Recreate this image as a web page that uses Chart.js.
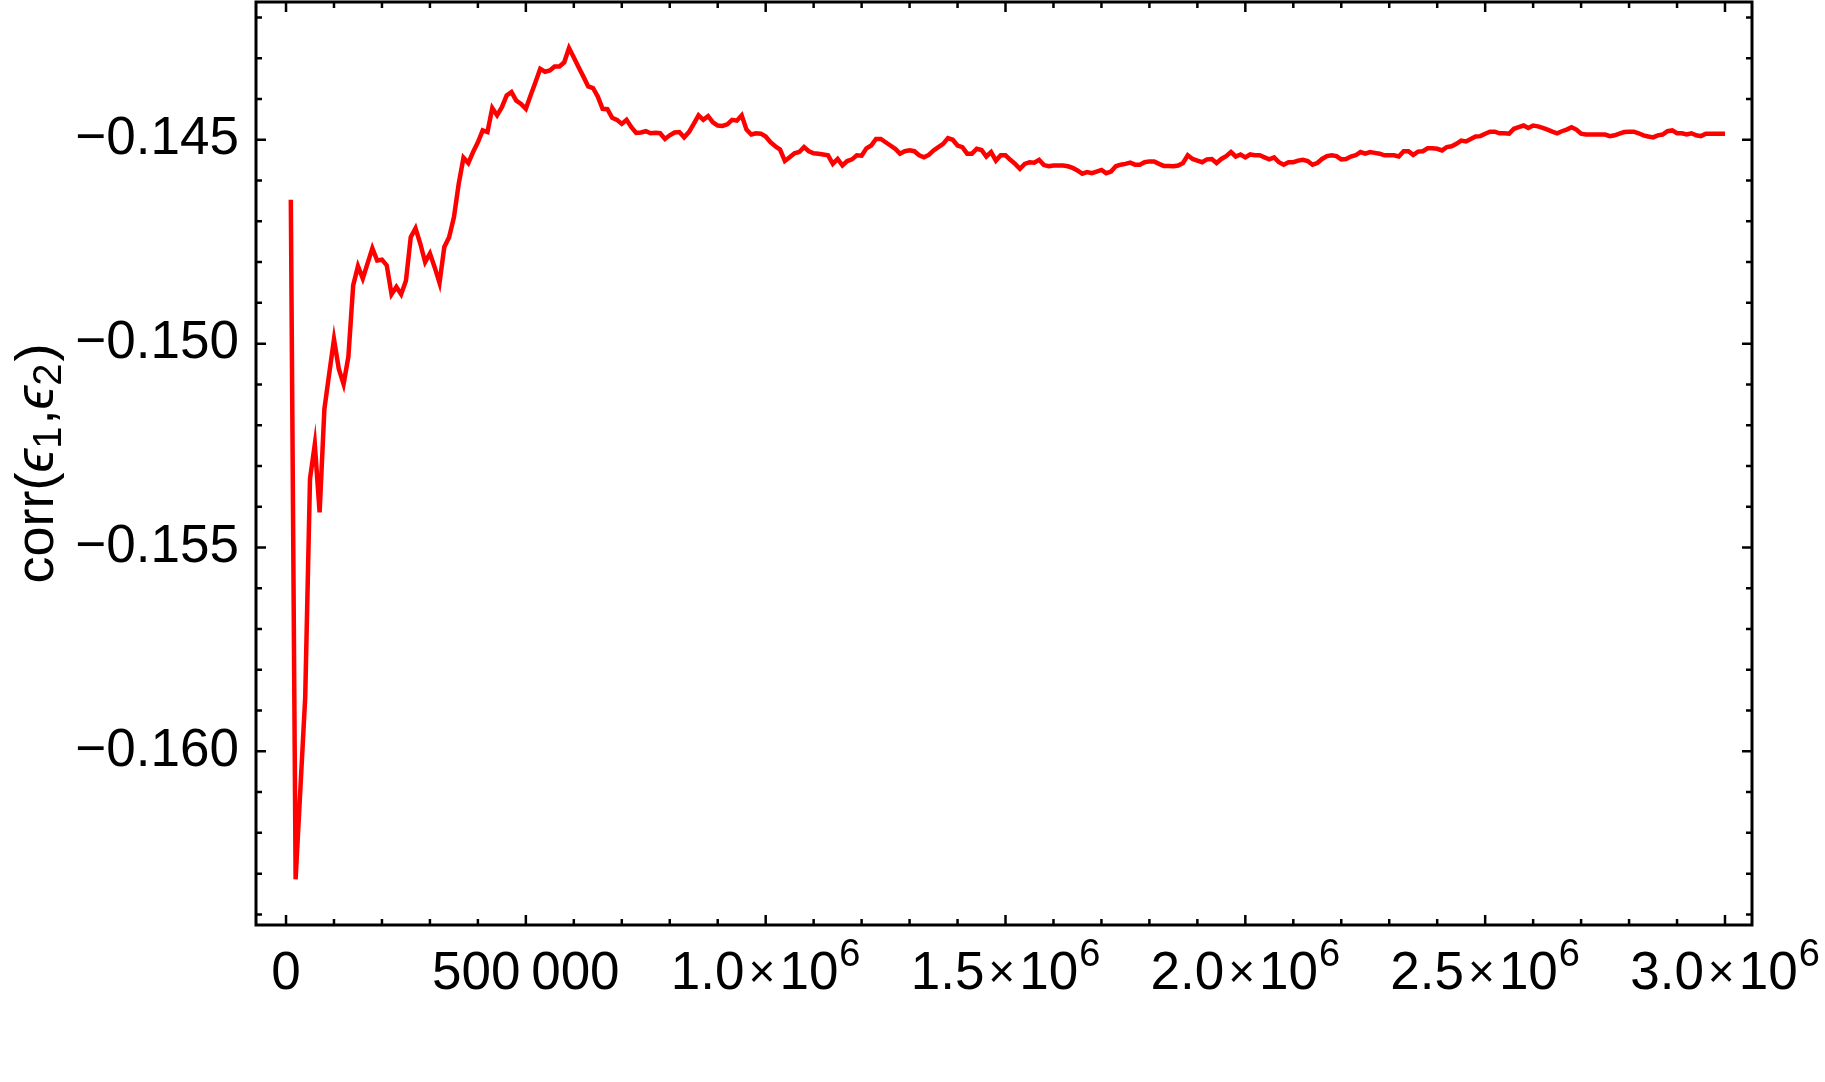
<!DOCTYPE html>
<html>
<head>
<meta charset="utf-8">
<script src="https://cdn.jsdelivr.net/npm/chart.js@4.4.1/dist/chart.umd.min.js"></script>
<style>
  html, body { margin: 0; padding: 0; background: #ffffff; }
  #wrap { width: 1825px; height: 1082px; position: relative; }
</style>
</head>
<body>
<div id="wrap"><canvas id="corrChart"></canvas></div>
<script>
//-----------------------------------------------------------------------------
// data: number of samples (thousands) vs running correlation
//-----------------------------------------------------------------------------
const samplesK = [
    10, 20, 40, 50, 60, 70, 80, 90, 100, 110, 120, 130, 140, 150, 160, 170, 180, 190, 200,
    210, 220, 230, 240, 250, 260, 270, 280, 290, 300, 310, 320, 330, 340, 350, 360, 370, 380,
    390, 400, 410, 420, 430, 440, 450, 460, 470, 480, 490, 500, 510, 520, 530, 540, 550, 560,
    570, 580, 590, 600, 610, 620, 630, 640, 650, 660, 670, 680, 690, 700, 710, 720, 730, 740,
    750, 760, 770, 780, 790, 800, 810, 820, 830, 840, 850, 860, 870, 880, 890, 900, 910, 920,
    930, 940, 950, 960, 970, 980, 990, 1000, 1010, 1020, 1030, 1040, 1050, 1060, 1070, 1080,
    1090, 1100, 1110, 1120, 1130, 1140, 1150, 1160, 1170, 1180, 1190, 1200, 1210, 1220, 1230,
    1240, 1250, 1260, 1270, 1280, 1290, 1300, 1310, 1320, 1330, 1340, 1350, 1360, 1370, 1380,
    1390, 1400, 1410, 1420, 1430, 1440, 1450, 1460, 1470, 1480, 1490, 1500, 1510, 1520, 1530,
    1540, 1550, 1560, 1570, 1580, 1590, 1600, 1610, 1620, 1630, 1640, 1650, 1660, 1670, 1680,
    1690, 1700, 1710, 1720, 1730, 1740, 1750, 1760, 1770, 1780, 1790, 1800, 1810, 1820, 1830,
    1840, 1850, 1860, 1870, 1880, 1890, 1900, 1910, 1920, 1930, 1940, 1950, 1960, 1970, 1980,
    1990, 2000, 2010, 2020, 2030, 2040, 2050, 2060, 2070, 2080, 2090, 2100, 2110, 2120, 2130,
    2140, 2150, 2160, 2170, 2180, 2190, 2200, 2210, 2220, 2230, 2240, 2250, 2260, 2270, 2280,
    2290, 2300, 2310, 2320, 2330, 2340, 2350, 2360, 2370, 2380, 2390, 2400, 2410, 2420, 2430,
    2440, 2450, 2460, 2470, 2480, 2490, 2500, 2510, 2520, 2530, 2540, 2550, 2560, 2570, 2580,
    2590, 2600, 2610, 2620, 2630, 2640, 2650, 2660, 2670, 2680, 2690, 2700, 2710, 2720, 2730,
    2740, 2750, 2760, 2770, 2780, 2790, 2800, 2810, 2820, 2830, 2840, 2850, 2860, 2870, 2880,
    2890, 2900, 2910, 2920, 2930, 2940, 2950, 2960, 2970, 2980, 2990, 3000
];

const corrValues = [
    -0.14647, -0.16314, -0.15867, -0.15331, -0.15247, -0.15414, -0.15160, -0.15074, -0.14989,
    -0.15062, -0.15099, -0.15032, -0.14857, -0.14810, -0.14840, -0.14803, -0.14766, -0.14796,
    -0.14794, -0.14808, -0.14879, -0.14861, -0.14879, -0.14846, -0.14739, -0.14717, -0.14755,
    -0.14800, -0.14779, -0.14813, -0.14851, -0.14763, -0.14739, -0.14690, -0.14608, -0.14544,
    -0.14557, -0.14530, -0.14506, -0.14477, -0.14481, -0.14422, -0.14440, -0.14420, -0.14391,
    -0.14383, -0.14404, -0.14412, -0.14424, -0.14391, -0.14359, -0.14326, -0.14333, -0.14330,
    -0.14320, -0.14320, -0.14310, -0.14275, -0.14298, -0.14322, -0.14345, -0.14369, -0.14373,
    -0.14394, -0.14424, -0.14425, -0.14446, -0.14451, -0.14461, -0.14451, -0.14469, -0.14483,
    -0.14482, -0.14479, -0.14484, -0.14483, -0.14484, -0.14498, -0.14489, -0.14482, -0.14481,
    -0.14494, -0.14481, -0.14461, -0.14440, -0.14451, -0.14442, -0.14457, -0.14465, -0.14466,
    -0.14462, -0.14451, -0.14453, -0.14440, -0.14475, -0.14487, -0.14484, -0.14485, -0.14492,
    -0.14506, -0.14516, -0.14524, -0.14552, -0.14543, -0.14533, -0.14530, -0.14518, -0.14528,
    -0.14533, -0.14534, -0.14536, -0.14538, -0.14559, -0.14547, -0.14563, -0.14552, -0.14548,
    -0.14538, -0.14539, -0.14521, -0.14514, -0.14498, -0.14498, -0.14506, -0.14514, -0.14522,
    -0.14534, -0.14528, -0.14526, -0.14528, -0.14538, -0.14543, -0.14537, -0.14526, -0.14518,
    -0.14510, -0.14496, -0.14500, -0.14514, -0.14518, -0.14534, -0.14534, -0.14522, -0.14525,
    -0.14541, -0.14530, -0.14551, -0.14538, -0.14538, -0.14549, -0.14559, -0.14571, -0.14559,
    -0.14555, -0.14556, -0.14549, -0.14562, -0.14565, -0.14563, -0.14563, -0.14563, -0.14565,
    -0.14569, -0.14575, -0.14583, -0.14579, -0.14582, -0.14578, -0.14574, -0.14582, -0.14578,
    -0.14565, -0.14561, -0.14559, -0.14556, -0.14561, -0.14561, -0.14555, -0.14553, -0.14553,
    -0.14559, -0.14564, -0.14564, -0.14565, -0.14563, -0.14557, -0.14538, -0.14547, -0.14551,
    -0.14555, -0.14548, -0.14547, -0.14557, -0.14547, -0.14540, -0.14530, -0.14541, -0.14536,
    -0.14543, -0.14536, -0.14538, -0.14538, -0.14543, -0.14548, -0.14543, -0.14555, -0.14561,
    -0.14555, -0.14555, -0.14551, -0.14549, -0.14552, -0.14561, -0.14557, -0.14547, -0.14540,
    -0.14538, -0.14540, -0.14548, -0.14547, -0.14541, -0.14538, -0.14530, -0.14534, -0.14530,
    -0.14532, -0.14534, -0.14538, -0.14538, -0.14538, -0.14541, -0.14528, -0.14528, -0.14537,
    -0.14529, -0.14528, -0.14521, -0.14521, -0.14522, -0.14526, -0.14518, -0.14516, -0.14510,
    -0.14502, -0.14504, -0.14498, -0.14492, -0.14491, -0.14485, -0.14480, -0.14480, -0.14484,
    -0.14484, -0.14485, -0.14473, -0.14469, -0.14465, -0.14471, -0.14465, -0.14467, -0.14471,
    -0.14475, -0.14480, -0.14484, -0.14479, -0.14475, -0.14469, -0.14475, -0.14485, -0.14487,
    -0.14487, -0.14487, -0.14487, -0.14487, -0.14491, -0.14489, -0.14485, -0.14481, -0.14480,
    -0.14480, -0.14484, -0.14489, -0.14492, -0.14494, -0.14489, -0.14487, -0.14479, -0.14477,
    -0.14484, -0.14484, -0.14487, -0.14484, -0.14489, -0.14491, -0.14485, -0.14485, -0.14485,
    -0.14485, -0.14485
];

// axis ticks and their labels ("^" marks the exponent)
const xTickValues = [0, 500000, 1000000, 1500000, 2000000, 2500000, 3000000];
const xTickLabels = ['0', '500\u2009000', '1.0 \u00d7 10^6', '1.5 \u00d7 10^6',
                     '2.0 \u00d7 10^6', '2.5 \u00d7 10^6', '3.0 \u00d7 10^6'];
const yTickValues = [-0.160, -0.155, -0.150, -0.145];
const yTickLabels = ['\u22120.160', '\u22120.155', '\u22120.150', '\u22120.145'];

// y title: corr(ϵ1,ϵ2) with italic epsilons and subscripts
const yTitleParts = [['corr(', 'normal'], ['\u03f5', 'italic'], ['1', 'sub'], [',', 'normal'],
                     ['\u03f5', 'italic'], ['2', 'sub'], [')', 'normal']];

const xRange = [-62600, 3056300];
const yRange = [-0.16426, -0.14162];

const FAMILY = "'Liberation Sans', Arial, sans-serif";
const labelFont = { family: FAMILY, size: 53 };

//-----------------------------------------------------------------------------
// frame round the plot with inward ticks on all four sides (Mathematica look)
//-----------------------------------------------------------------------------
const frameTicks = {
    id: 'frameTicks',
    afterDraw(chart) {
        const { ctx, chartArea: a, scales } = chart;
        const xs = scales.x, ys = scales.y;
        ctx.save();
        ctx.strokeStyle = '#000';
        ctx.lineWidth = 2.5;
        ctx.lineCap = 'butt';

        // x ticks every 100 000, major every 500 000
        for (let i = 0; i <= 30; i++) {
            const px = xs.getPixelForValue(i * 100000);
            const len = (i % 5 === 0) ? 10 : 6;
            ctx.beginPath();
            ctx.moveTo(px, a.bottom); ctx.lineTo(px, a.bottom - len);
            ctx.moveTo(px, a.top);    ctx.lineTo(px, a.top + len);
            ctx.stroke();
        }
        // y ticks every 0.001, major every 0.005
        for (let i = 142; i <= 164; i++) {
            const py = ys.getPixelForValue(-i / 1000);
            const len = (i % 5 === 0) ? 10 : 6;
            ctx.beginPath();
            ctx.moveTo(a.left, py);  ctx.lineTo(a.left + len, py);
            ctx.moveTo(a.right, py); ctx.lineTo(a.right - len, py);
            ctx.stroke();
        }

        ctx.lineWidth = 3;
        ctx.strokeRect(a.left, a.top, a.right - a.left, a.bottom - a.top);
        ctx.restore();
    }
};

//-----------------------------------------------------------------------------
// x labels with a raised exponent, and the rotated y title with subscripts
//-----------------------------------------------------------------------------
const richLabels = {
    id: 'richLabels',
    afterDraw(chart) {
        const { ctx, chartArea: a, scales } = chart;
        const mainFont  = `53px ${FAMILY}`;
        const timesFont = `46px ${FAMILY}`;
        const supFont   = `38px ${FAMILY}`;
        const gap = 4;
        ctx.save();
        ctx.fillStyle = '#000';
        ctx.textAlign = 'left';
        ctx.textBaseline = 'alphabetic';

        const base = a.bottom + 64;
        xTickValues.forEach((v, i) => {
            // split "m × 10^e" into runs
            const m = xTickLabels[i].match(/^(.*) \u00d7 (10)\^(\d+)$/);
            const runs = m
                ? [[m[1], mainFont, 0, gap], ['\u00d7', timesFont, 2, gap], [m[2], mainFont, 0, 1], [m[3], supFont, 23, 0]]
                : [[xTickLabels[i], mainFont, 0, 0]];
            let total = 0;
            runs.forEach(([t, f, , g]) => { ctx.font = f; total += ctx.measureText(t).width + g; });
            let cx = scales.x.getPixelForValue(v) - total / 2;
            runs.forEach(([t, f, rise, g]) => {
                ctx.font = f;
                ctx.fillText(t, cx, base - rise);
                cx += ctx.measureText(t).width + g;
            });
        });

        // y title, rotated
        const fonts = {
            normal: `54px ${FAMILY}`,
            italic: `italic 54px ${FAMILY}`,
            sub: `40px ${FAMILY}`
        };
        let total = 0;
        yTitleParts.forEach(([t, f]) => { ctx.font = fonts[f]; total += ctx.measureText(t).width + (f === 'sub' ? 2 : 0); });
        ctx.translate(53, (a.top + a.bottom) / 2);
        ctx.rotate(-Math.PI / 2);
        let cx = -total / 2;
        yTitleParts.forEach(([t, f]) => {
            ctx.font = fonts[f];
            ctx.fillText(t, cx, f === 'sub' ? 8 : 0);
            cx += ctx.measureText(t).width + (f === 'sub' ? 2 : 0);
        });
        ctx.restore();
    }
};

// scale padding is taken from layout.padding only
function zeroPadding(scale) {
    scale.paddingTop = 0;
    scale.paddingBottom = 0;
    scale.paddingLeft = 0;
    scale.paddingRight = 0;
}

const points = samplesK.map((k, i) => ({ x: k * 1000, y: corrValues[i] }));

const ctx = document.getElementById('corrChart').getContext('2d');
new Chart(ctx, {
    type: 'line',
    data: {
        datasets: [
            {
                label: 'corr',
                data: points,
                borderColor: '#ff0000',
                borderWidth: 4.5,
                pointRadius: 0,
                tension: 0,
                fill: false
            }
        ]
    },
    options: {
        responsive: true,
        maintainAspectRatio: false,
        animation: false,
        layout: {
            padding: { top: 2, right: 73, left: 0, bottom: 0 }
        },
        plugins: {
            legend: { display: false },
            tooltip: { enabled: false }
        },
        scales: {
            x: {
                type: 'linear',
                min: xRange[0],
                max: xRange[1],
                afterBuildTicks: scale => {
                    scale.ticks = xTickValues.map(v => ({ value: v }));
                },
                afterFit: scale => { scale.height = 157; zeroPadding(scale); },
                grid: { display: false, drawTicks: false },
                border: { display: false },
                ticks: {
                    display: false,
                    callback: (value, index) => xTickLabels[index]
                }
            },
            y: {
                type: 'linear',
                min: yRange[0],
                max: yRange[1],
                afterBuildTicks: scale => {
                    scale.ticks = yTickValues.map(v => ({ value: v }));
                },
                afterFit: scale => { scale.width = 256; zeroPadding(scale); },
                grid: { display: false, drawTicks: false },
                border: { display: false },
                ticks: {
                    color: '#000',
                    font: labelFont,
                    padding: 17,
                    autoSkip: false,
                    callback: (value, index) => yTickLabels[index]
                }
            }
        }
    },
    plugins: [frameTicks, richLabels]
});
</script>
</body>
</html>
